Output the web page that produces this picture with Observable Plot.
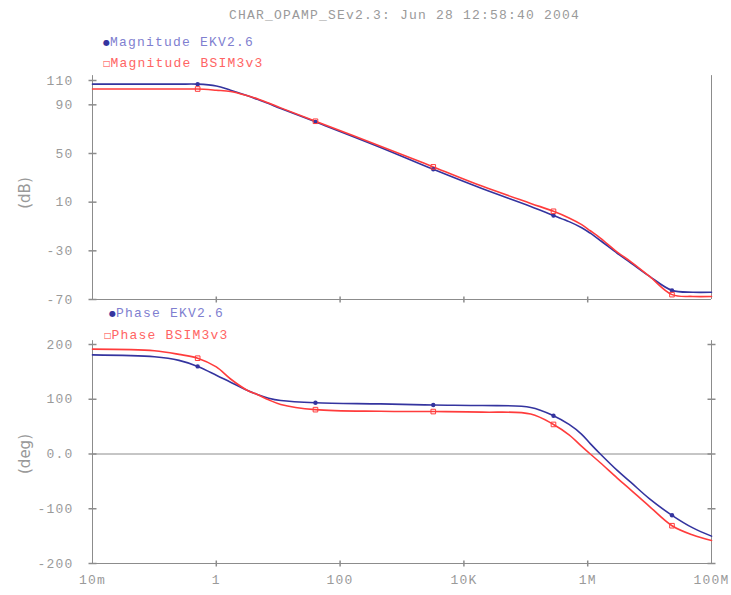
<!DOCTYPE html>
<html>
<head>
<meta charset="utf-8">
<script src="https://cdn.jsdelivr.net/npm/d3@7"></script>
<script src="https://cdn.jsdelivr.net/npm/@observablehq/plot@0.6"></script>
<style>
  html, body { margin: 0; padding: 0; background: #fff; }
  #root { position: relative; width: 731px; height: 595px; overflow: hidden; }
  .t { position: absolute; font-family: "Liberation Mono", "DejaVu Sans Mono", monospace; font-size: 13px; letter-spacing: 1.2px; white-space: nowrap; line-height: 1; z-index: 5; }
  .ylab { position: absolute; font-family: "DejaVu Sans", sans-serif; font-size: 15px; color: #999; transform: translate(-50%, -50%) rotate(-90deg); white-space: nowrap; z-index: 5; }
  .plot { position: absolute; left: 0; }
</style>
</head>
<body>
<div id="root"></div>
<script>
// ---- data ----
const titleText = "CHAR_OPAMP_SEv2.3: Jun 28 12:58:40 2004";
const freq      = [0.01, 0.1, 0.25, 0.5, 1, 1.7, 3.2, 4.6, 7, 11, 40, 450, 3200, 2e4, 1.2e5, 2.8e5, 5e5, 8e5, 1.1e6, 1.6e6, 3e6, 5e6, 1e7, 2.3e7, 5e7, 1e8];
const magEKV    = [107, 107, 107, 107, 105.5, 102, 97.5, 94.5, 91, 87, 76, 55, 37, 21, 6.5, -1, -6, -11, -15.5, -21.5, -32, -40, -51, -62.5, -64, -64];
const magBSIM   = [103, 103, 103, 103, 102, 101, 97.5, 95, 91.5, 87.5, 76.5, 56, 39, 23, 9, 2.5, -3, -8.5, -13.5, -19.5, -31, -39, -51, -66, -67.5, -67.5];
const phaseEKV  = [181, 177.5, 171, 160, 144, 131, 116, 108.7, 102, 97.7, 93.5, 91.5, 89.5, 88.5, 85, 70, 54, 36, 19, 0, -30, -52, -82, -112, -135, -150];
const phaseBSIM = [191.5, 188.5, 182, 175, 159, 137, 116, 108.7, 99, 90.5, 81, 78, 77.5, 76.5, 73, 54, 35, 14, 0, -16, -44, -66, -96, -131, -148, -158];
const markerFreq = [0.5, 40, 3200, 2.8e5, 2.3e7];

const xDomain = [0.01, 1e8];
const freqTicks = [1e-2, 1, 1e2, 1e4, 1e6, 1e8];
const freqTickLabels = ["10m", "1", "100", "10K", "1M", "100M"];
const magDomain = [-70, 110];
const magTicks = [110, 90, 50, 10, -30, -70];
const magTickLabels = ["110", "90", "50", "10", "-30", "-70"];
const phaseDomain = [-200, 200];
const phaseTicks = [200, 100, 0, -100, -200];
const phaseTickLabels = ["200", "100", "0.0", "-100", "-200"];

const legendMag = ["Magnitude EKV2.6", "Magnitude BSIM3v3"];
const legendPhase = ["Phase EKV2.6", "Phase BSIM3v3"];

// ---- styling ----
const BLUE = "#34349f";
const RED = "#ff3c3c";
const GREY = "#8c8c8c";
const TEXT = "#9a9a9a";

const hTick = {draw(ctx, size) { const r = Math.sqrt(size / Math.PI); ctx.moveTo(-r, 0); ctx.lineTo(r, 0); }};
const vTick = {draw(ctx, size) { const r = Math.sqrt(size / Math.PI); ctx.moveTo(0, -r); ctx.lineTo(0, r); }};

function rows(values) { return freq.map((f, i) => ({f, v: values[i]})); }
function marks(values) { return rows(values).filter(d => markerFreq.includes(d.f)); }

const root = document.getElementById("root");
function addText(cls, txt, left, topPx, color) {
  const el = document.createElement("div");
  el.className = cls; el.textContent = txt;
  el.style.left = left + "px"; el.style.top = topPx + "px";
  if (color) el.style.color = color;
  root.appendChild(el);
  return el;
}
function addLegend(sym, symColor, symSize, txt, txtColor, left, topPx) {
  const el = document.createElement("div");
  el.className = "t";
  el.style.left = left + "px"; el.style.top = topPx + "px";
  const s = document.createElement("span");
  s.textContent = sym; s.style.color = symColor; s.style.fontSize = symSize; s.style.letterSpacing = "0px";
  s.style.fontFamily = "'DejaVu Sans', sans-serif";
  s.style.verticalAlign = "1px";
  const t = document.createElement("span");
  t.textContent = txt; t.style.color = txtColor;
  el.appendChild(s); el.appendChild(t);
  root.appendChild(el);
}

function panel({values1, values2, yDomain, ticks, tickLabels, frameTop, height, marginTop, marginBottom, showX, rightTicks, zeroLine}) {
  const m = [
    Plot.ruleY([yDomain[0]], {stroke: GREY, strokeWidth: 1}),
    Plot.ruleX(xDomain, {y1: yDomain[0], y2: frameTop, stroke: GREY, strokeWidth: 1}),
    Plot.dot(ticks, {x: () => xDomain[0], y: d => d, symbol: hTick, r: 4, stroke: GREY, fill: "none"}),
    Plot.dot(freqTicks.slice(1, -1), {x: d => d, y: () => yDomain[0], symbol: vTick, r: 3, stroke: GREY, fill: "none"}),
    Plot.axisY(ticks, {tickSize: 0, tickPadding: 19, tickFormat: d => tickLabels[ticks.indexOf(d)], label: null})
  ];
  if (rightTicks) m.push(Plot.dot(ticks, {x: () => xDomain[1], y: d => d, symbol: hTick, r: 4, stroke: GREY, fill: "none"}));
  if (zeroLine) m.push(Plot.ruleY([0], {stroke: GREY, strokeWidth: 1}));
  if (showX) m.push(Plot.axisX(freqTicks, {tickSize: 0, tickPadding: 11, tickFormat: d => freqTickLabels[freqTicks.indexOf(d)], label: null}));
  m.push(
    Plot.line(rows(values1), {x: "f", y: "v", stroke: BLUE, strokeWidth: 1.6, curve: "catmull-rom"}),
    Plot.line(rows(values2), {x: "f", y: "v", stroke: RED, strokeWidth: 1.6, curve: "catmull-rom"}),
    Plot.dot(marks(values1), {x: "f", y: "v", r: 2.2, fill: BLUE, stroke: "none"}),
    Plot.dot(marks(values2), {x: "f", y: "v", r: 2.6, symbol: "square", fill: "none", stroke: RED, strokeWidth: 1})
  );
  return Plot.plot({
    width: 731, height, marginLeft: 92, marginRight: 20, marginTop, marginBottom,
    x: {type: "log", domain: xDomain, axis: null, label: null},
    y: {domain: yDomain, axis: null, label: null},
    style: {fontFamily: "'Liberation Mono', 'DejaVu Sans Mono', monospace", fontSize: "13px", color: TEXT, letterSpacing: "1.2px", background: "transparent", overflow: "visible"},
    marks: m
  });
}

const magPlot = panel({values1: magEKV, values2: magBSIM, yDomain: magDomain, ticks: magTicks, tickLabels: magTickLabels,
  frameTop: 114, height: 250, marginTop: 20, marginBottom: 11, showX: false, rightTicks: false, zeroLine: false});
magPlot.classList.add("plot"); magPlot.style.top = "60px";
root.appendChild(magPlot);

const phasePlot = panel({values1: phaseEKV, values2: phaseBSIM, yDomain: phaseDomain, ticks: phaseTicks, tickLabels: phaseTickLabels,
  frameTop: 207, height: 265, marginTop: 14, marginBottom: 32, showX: true, rightTicks: true, zeroLine: true});
phasePlot.classList.add("plot"); phasePlot.style.top = "330px";
root.appendChild(phasePlot);

// title, legends, axis titles
addText("t", titleText, 229, 9, TEXT);
addLegend("\u25CF", BLUE, "8px", legendMag[0], "#7f7fd0", 103, 36);
addLegend("\u25A1", RED, "8px", legendMag[1], "#ff6464", 103, 57);
addLegend("\u25CF", BLUE, "8px", legendPhase[0], "#7f7fd0", 109, 307);
addLegend("\u25A1", RED, "8px", legendPhase[1], "#ff6464", 104, 329);
addText("ylab", "(dB)", 25, 193);
addText("ylab", "(deg)", 25, 454);
</script>
</body>
</html>
